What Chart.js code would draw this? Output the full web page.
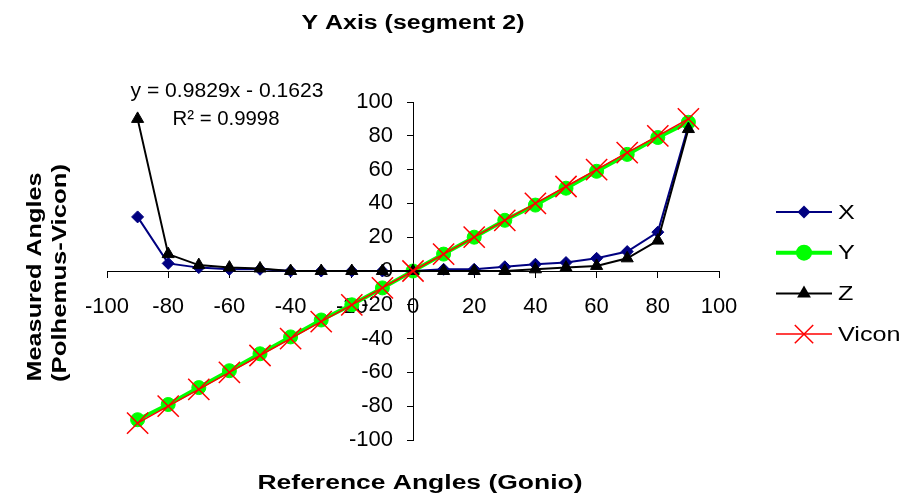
<!DOCTYPE html>
<html>
<head>
<meta charset="utf-8">
<script src="https://cdn.jsdelivr.net/npm/chart.js@4/dist/chart.umd.min.js"></script>
<style>
  html, body { margin: 0; padding: 0; background: #fff; }
</style>
</head>
<body>
<canvas id="grafikSudut" width="908" height="500"></canvas>
<script>
// Data
const sudutGonio = [-90, -80, -70, -60, -50, -40, -30, -20, -10, 0, 10, 20, 30, 40, 50, 60, 70, 80, 90];
const nilaiX = [32, 4.5, 2, 1, 1, 0, 0, 0, 0, 0, 1, 1, 2.5, 4, 5, 7.5, 11.5, 23, 86];
const nilaiY = [-88, -79, -69, -59, -49, -39, -29, -20, -10, 0, 10, 20, 30, 39, 49, 59, 69, 79, 88];
const nilaiZ = [90, 10, 3.5, 2, 1.5, 0, 0, 0, 0, 0, 0, 0, 0, 1, 2, 3, 7.5, 18, 84];
const nilaiVicon = [-90, -80, -70, -60, -50, -40, -30, -20, -10, 0, 10, 20, 30, 40, 50, 60, 70, 80, 90];
const tickSumbu = [-100, -80, -60, -40, -20, 0, 20, 40, 60, 80, 100];

const judul = "Y Axis (segment 2)";
const judulX = "Reference Angles (Gonio)";
const judulY = ["Measured Angles", "(Polhemus-Vicon)"];
const persamaan = ["y = 0.9829x - 0.1623", "R\u00B2 = 0.9998"];

const FONT = "'Liberation Sans', Arial, sans-serif";

const seri = [
  { label: "X", data: nilaiX, warna: "#000080", titik: "rectRot", r: 6, rLeg: 6.5, tebal: 2, order: 4 },
  { label: "Y", data: nilaiY, warna: "#00FF00", titik: "circle", r: 7, rLeg: 8, tebal: 4, order: 3 },
  { label: "Z", data: nilaiZ, warna: "#000000", titik: "triangle", r: 7, rLeg: 8, tebal: 2, order: 2 },
  { label: "Vicon", data: nilaiVicon, warna: "#FF0000", titik: "crossRot", r: 15, rLeg: 13, tebal: 1.5, order: 1 },
];

// teks dengan lebar tertentu (huruf asli agak melebar)
function tulis(ctx, teks, x, y, lebar, font, sudut) {
  ctx.save();
  ctx.font = font;
  ctx.translate(x, y);
  if (sudut) ctx.rotate(sudut);
  const w = ctx.measureText(teks).width;
  ctx.scale(lebar / w, 1);
  ctx.textAlign = "center";
  ctx.textBaseline = "alphabetic";
  ctx.fillStyle = "#000";
  ctx.fillText(teks, 0, 0);
  ctx.restore();
}

function gambarTitik(ctx, jenis, x, y, r, warna, tebal) {
  ctx.save();
  ctx.fillStyle = warna;
  ctx.strokeStyle = warna;
  ctx.lineWidth = tebal;
  ctx.beginPath();
  if (jenis === "circle") {
    ctx.arc(x, y, r, 0, Math.PI * 2);
    ctx.fill();
  } else if (jenis === "rectRot") {
    ctx.moveTo(x, y - r); ctx.lineTo(x + r, y); ctx.lineTo(x, y + r); ctx.lineTo(x - r, y);
    ctx.closePath(); ctx.fill();
  } else if (jenis === "triangle") {
    ctx.moveTo(x, y - r);
    ctx.lineTo(x + r * 0.866, y + r / 2);
    ctx.lineTo(x - r * 0.866, y + r / 2);
    ctx.closePath(); ctx.fill();
  } else {
    const d = r * Math.SQRT1_2;
    ctx.moveTo(x - d, y - d); ctx.lineTo(x + d, y + d);
    ctx.moveTo(x + d, y - d); ctx.lineTo(x - d, y + d);
    ctx.stroke();
  }
  ctx.restore();
}

// label sumbu yang memotong di nol digeser menjauhi garis sumbu
const geserLabel = {
  id: "geserLabel",
  afterLayout(chart) {
    [["x", 0, 14], ["y", -20, 0]].forEach(([id, dx, dy]) => {
      const sc = chart.scales[id];
      if (sc._digeser) return;
      const asli = sc.drawLabels;
      sc.drawLabels = function (area) {
        this.ctx.save();
        this.ctx.translate(dx, dy);
        asli.call(this, area);
        this.ctx.restore();
      };
      sc._digeser = true;
    });
  },
};

const hiasan = {
  id: "hiasan",
  afterDraw(chart) {
    const ctx = chart.ctx;
    tulis(ctx, judul, 413, 29, 223, "bold 20px " + FONT);
    tulis(ctx, judulX, 420, 489, 325, "bold 20px " + FONT);
    tulis(ctx, judulY[0], 41, 277, 209, "bold 20px " + FONT, -Math.PI / 2);
    tulis(ctx, judulY[1], 66, 273, 218, "bold 20px " + FONT, -Math.PI / 2);
    tulis(ctx, persamaan[0], 227, 97, 193, "20px " + FONT);
    tulis(ctx, persamaan[1], 226, 125, 107, "20px " + FONT);

    // legenda
    seri.forEach((s, i) => {
      const y = 212 + i * 40.7;
      ctx.save();
      ctx.strokeStyle = s.warna;
      ctx.lineWidth = s.tebal;
      ctx.beginPath();
      ctx.moveTo(776, y);
      ctx.lineTo(832, y);
      ctx.stroke();
      ctx.restore();
      gambarTitik(ctx, s.titik, 804, y, s.rLeg, s.warna, s.tebal);
      ctx.save();
      ctx.font = "21px " + FONT;
      ctx.textBaseline = "middle";
      ctx.fillStyle = "#000";
      ctx.translate(838, y + 1);
      ctx.scale(1.2, 1);
      ctx.fillText(s.label, 0, 0);
      ctx.restore();
    });
  },
};

const sumbu = (posisi) => ({
  type: "linear",
  min: -100,
  max: 100,
  position: posisi,
  afterBuildTicks: (sc) => { sc.ticks = tickSumbu.map((v) => ({ value: v })); },
  ticks: { color: "#000", font: { family: FONT, size: 22 }, maxRotation: 0, autoSkip: false },
  grid: { drawOnChartArea: false, drawTicks: true, tickLength: 6, color: "#000", lineWidth: 1 },
  border: { color: "#000", width: 1 },
});

new Chart(document.getElementById("grafikSudut"), {
  type: "scatter",
  data: {
    datasets: seri.map((s) => ({
      label: s.label,
      data: sudutGonio.map((g, i) => ({ x: g, y: s.data[i] })),
      showLine: true,
      borderColor: s.warna,
      backgroundColor: s.warna,
      borderWidth: s.tebal,
      pointStyle: s.titik,
      pointRadius: s.r,
      pointHoverRadius: s.r,
      pointBorderWidth: s.titik === "crossRot" ? 1.5 : 1,
      tension: 0,
      order: s.order,
    })),
  },
  options: {
    responsive: false,
    animation: false,
    devicePixelRatio: 1,
    layout: { padding: { left: 107, right: 189, top: 102, bottom: 60 } },
    plugins: { legend: { display: false }, title: { display: false }, tooltip: { enabled: false } },
    scales: {
      x: Object.assign(sumbu({ y: 0 }), { afterFit: (sc) => { sc.height = 0; } }),
      y: Object.assign(sumbu({ x: 0 }), { afterFit: (sc) => { sc.width = 0; } }),
    },
  },
  plugins: [geserLabel, hiasan],
});
</script>
</body>
</html>
